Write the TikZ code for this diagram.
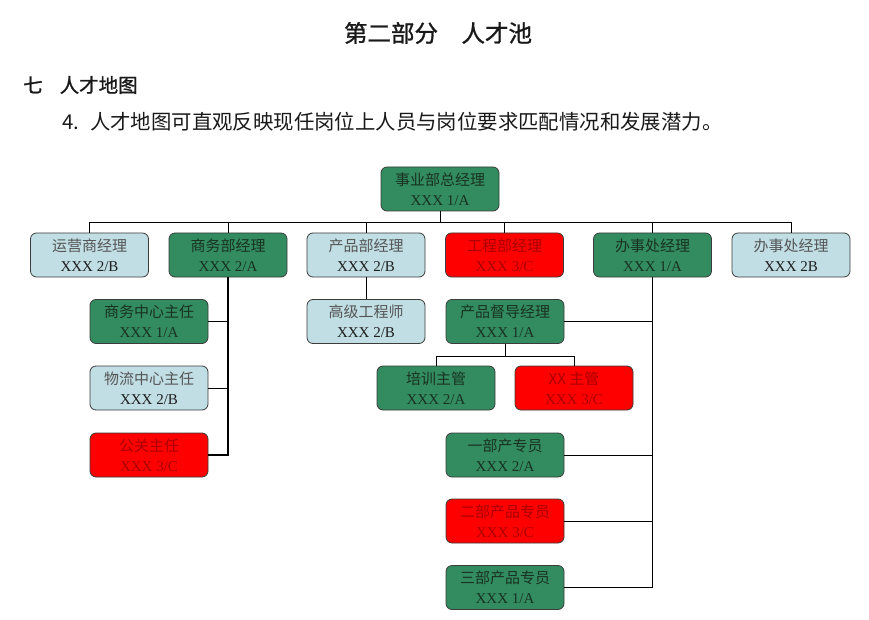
\documentclass[tikz,border=0pt]{standalone}
\usepackage{fontspec}
\setmainfont{Liberation Serif}
\newfontfamily\cjk{Noto Sans CJK SC}
\newfontfamily\cjkb[FakeBold=1.2]{Noto Sans CJK SC}
\definecolor{gfill}{RGB}{50,140,95}
\definecolor{bfill}{RGB}{192,222,228}
\definecolor{rfill}{RGB}{255,0,0}
\definecolor{bord}{RGB}{60,60,60}
\definecolor{gtxt}{RGB}{25,50,35}
\definecolor{rtxt}{RGB}{170,0,0}
\definecolor{btxt}{RGB}{85,85,85}
\definecolor{bxtxt}{RGB}{30,30,30}
\newcommand\bxt[2]{{\cjk\color{cnc}#1}\\[1pt]{\color{xc}#2}}
\tikzset{
  box/.style={draw=bord, line width=0.8pt, rounded corners=6pt,
    minimum width=118pt, minimum height=44pt, inner sep=0pt,
    align=center, font=\fontsize{15}{19}\selectfont},
  gbox/.style={box, fill=gfill, execute at begin node={\colorlet{cnc}{gtxt}\colorlet{xc}{gtxt}}},
  bbox/.style={box, fill=bfill, execute at begin node={\colorlet{cnc}{btxt}\colorlet{xc}{bxtxt}}},
  rbox/.style={box, fill=rfill, execute at begin node={\colorlet{cnc}{rtxt}\colorlet{xc}{rtxt}}},
  conn/.style={draw=black, line width=1pt},
  thickconn/.style={draw=black, line width=2pt},
}
\begin{document}
\begin{tikzpicture}[x=1pt,y=-1pt]
\useasboundingbox (0,0) rectangle (869,620);
% headings
\node[font=\fontsize{23.5}{26}\selectfont\cjkb, text=black!90] (title) at (438,33) {第二部分　人才池};
\node[anchor=west, inner sep=0pt, font=\fontsize{19.5}{22}\selectfont\cjkb, text=black!90] (sec) at (23,85) {七\hspace{17pt}人才地图};
\node[anchor=west, inner sep=0pt, font=\fontsize{20.4}{23}\selectfont\cjk, text=black!90] (para) at (62,122) {4.\hspace{11pt}人才地图可直观反映现任岗位上人员与岗位要求匹配情况和发展潜力。};
% nodes
\node[gbox] (top) at (440,189) {\bxt{事业部总经理}{XXX 1/A}};
\node[bbox] (yy) at (89.5,255) {\bxt{运营商经理}{XXX 2/B}};
\node[gbox] (sw) at (228,255) {\bxt{商务部经理}{XXX 2/A}};
\node[bbox] (cp) at (366,255) {\bxt{产品部经理}{XXX 2/B}};
\node[rbox] (gc) at (504.5,255) {\bxt{工程部经理}{XXX 3/C}};
\node[gbox] (bs) at (652.5,255) {\bxt{办事处经理}{XXX 1/A}};
\node[bbox] (bs2) at (791,255) {\bxt{办事处经理}{XXX 2B}};
\node[gbox] (swzx) at (149,321.5) {\bxt{商务中心主任}{XXX 1/A}};
\node[bbox] (wl) at (149,388) {\bxt{物流中心主任}{XXX 2/B}};
\node[rbox] (gg) at (149,455) {\bxt{公关主任}{XXX 3/C}};
\node[bbox] (gj) at (366,321.5) {\bxt{高级工程师}{XXX 2/B}};
\node[gbox] (dd) at (505,321.5) {\bxt{产品督导经理}{XXX 1/A}};
\node[gbox] (px) at (436,388) {\bxt{培训主管}{XXX 2/A}};
\node[rbox] (xx) at (574,388) {\bxt{XX 主管}{XXX 3/C}};
\node[gbox] (e1) at (505,455) {\bxt{一部产专员}{XXX 2/A}};
\node[rbox] (e2) at (505,521) {\bxt{二部产品专员}{XXX 3/C}};
\node[gbox] (e3) at (505,587.5) {\bxt{三部产品专员}{XXX 1/A}};
% connectors
\foreach \c in {yy,sw,cp,gc,bs,bs2}
  \draw[conn] (top.south) -- ++(0,11) -| (\c.north);
\draw[thickconn] (sw.south) |- (gg.east);
\draw[conn] (swzx.east) -- (swzx.east -| sw.south);
\draw[conn] (wl.east) -- (wl.east -| sw.south);
\draw[conn] (cp.south) -- (gj.north);
\draw[conn] (bs.south) |- (e3.east);
\draw[conn] (dd.east) -- (dd.east -| bs.south);
\draw[conn] (e1.east) -- (e1.east -| bs.south);
\draw[conn] (e2.east) -- (e2.east -| bs.south);
\draw[conn] (dd.south) -- ++(0,12.5) -| (px.north);
\draw[conn] (dd.south) -- ++(0,12.5) -| (xx.north);
\end{tikzpicture}
\end{document}
